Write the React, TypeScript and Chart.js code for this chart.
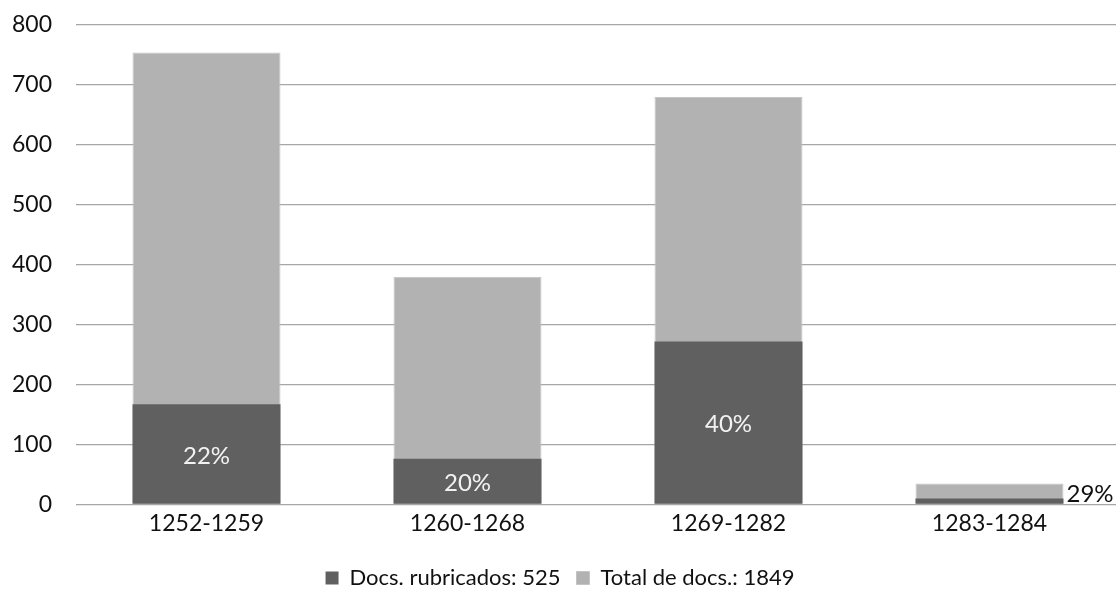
import React, { useEffect, useRef } from "react";
import { Chart, registerables } from "chart.js";

Chart.register(...registerables);

const categories = ["1252-1259", "1260-1268", "1269-1282", "1283-1284"];
const rubricados = [167, 76, 272, 10];
const totales = [754, 380, 680, 35];
const rubricadosLabel = "Docs. rubricados: 525";
const totalLabel = "Total de docs.: 1849";
const yTicks = [0, 100, 200, 300, 400, 500, 600, 700, 800];

const FONT = "Lato, 'Open Sans', sans-serif";

const pctPlugin = {
  id: "pctLabels",
  afterDatasetsDraw(chart: any) {
    const ctx = chart.ctx;
    const darkMeta = chart.getDatasetMeta(0);
    const lightMeta = chart.getDatasetMeta(1);
    ctx.save();
    ctx.font = `24px ${FONT}`;
    ctx.textBaseline = "middle";
    darkMeta.data.forEach((bar: any, i: number) => {
      const pct = Math.round((rubricados[i] / totales[i]) * 100) + "%";
      const h = bar.base - bar.y;
      if (h > 30) {
        ctx.fillStyle = "#f2f2f2";
        ctx.textAlign = "center";
        ctx.fillText(pct, bar.x, (bar.y + bar.base) / 2 + 2);
      } else {
        const lb = lightMeta.data[i];
        ctx.fillStyle = "#111";
        ctx.textAlign = "left";
        ctx.fillText(pct, bar.x + bar.width / 2 + 3, (lb.y + lb.base) / 2 + 1);
      }
    });
    ctx.restore();
  },
};

export default function App() {
  const ref = useRef<HTMLCanvasElement | null>(null);
  useEffect(() => {
    document.body.style.margin = "0";
    if (!ref.current) return;
    const chart = new Chart(ref.current, {
      type: "bar",
      data: {
        labels: categories,
        datasets: [
          {
            label: rubricadosLabel,
            data: rubricados,
            backgroundColor: "#606060",
            borderWidth: 0,
            barPercentage: 0.567,
            categoryPercentage: 1,
          },
          {
            label: totalLabel,
            data: totales,
            backgroundColor: "#b2b2b2",
            borderColor: "#c4c4c4",
            borderWidth: 1,
            barPercentage: 0.567,
            categoryPercentage: 1,
          },
        ],
      },
      options: {
        animation: false,
        responsive: false,
        maintainAspectRatio: false,
        layout: { padding: { top: 25, right: 2, left: 0, bottom: 0 } },
        plugins: {
          tooltip: { enabled: false },
          legend: {
            position: "bottom",
            labels: {
              boxWidth: 13,
              boxHeight: 13,
              padding: 16,
              color: "#111",
              font: { family: FONT, size: 22 },
            },
          },
        },
        scales: {
          x: {
            stacked: true,
            grid: { display: false, drawTicks: false },
            border: { display: false },
            ticks: {
              color: "#111",
              font: { family: FONT, size: 23 },
              padding: 5,
            },
            afterFit: (scale: any) => {
              scale.height += 9;
            },
          },
          y: {
            stacked: false,
            min: 0,
            max: 800,
            afterBuildTicks: (scale: any) => {
              scale.ticks = yTicks.map((v) => ({ value: v }));
            },
            afterFit: (scale: any) => {
              scale.width = 76;
              scale.paddingTop = 0;
              scale.paddingBottom = 0;
            },
            grid: { color: "#a6a6a6", lineWidth: 1.3, drawTicks: false },
            border: { display: false },
            ticks: {
              color: "#111",
              font: { family: FONT, size: 23 },
              padding: 24,
            },
          },
        },
      },
      plugins: [pctPlugin],
    });
    return () => chart.destroy();
  }, []);
  return (
    <div style={{ position: "fixed", left: 0, top: 0, width: 1116, height: 599, overflow: "hidden", background: "#fff" }}>
      <canvas ref={ref} width={1122} height={599} style={{ width: 1122, height: 599, display: "block" }} />
    </div>
  );
}
